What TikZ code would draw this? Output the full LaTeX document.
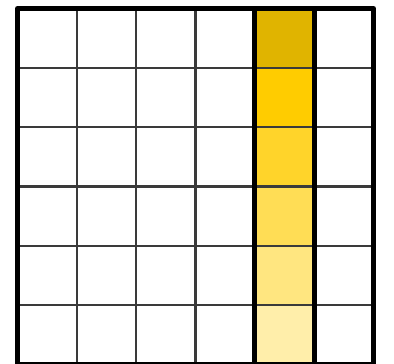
\documentclass[tikz,border=0pt]{standalone}
\definecolor{c1}{HTML}{E0B400}
\definecolor{c2}{HTML}{FFCC00}
\definecolor{c3}{HTML}{FFD42A}
\definecolor{c4}{HTML}{FFDD55}
\definecolor{c5}{HTML}{FFE680}
\definecolor{c6}{HTML}{FFEEAA}
\definecolor{gridgrey}{HTML}{3A3A3A}
\tikzset{
  innerline/.style={draw=gridgrey, line width=2.6pt},
  outerline/.style={draw=black, line width=5pt, line join=round},
}
\begin{document}
\begin{tikzpicture}[x=1pt,y=-1pt]
\useasboundingbox (0,0) rectangle (394,364);
\begin{scope}
\clip (0,0) rectangle (394,364);
\pgfmathsetmacro{\cs}{356/6}
% highlighted column fills
\foreach \i/\c in {0/c1,1/c2,2/c3,3/c4,4/c5,5/c6}{
  \fill[\c] ({17.5+4*\cs},{8.5+\i*\cs}) rectangle ({17.5+5*\cs},{8.5+(\i+1)*\cs});
}
% inner grid lines
\foreach \k in {1,...,5}{
  \draw[innerline] ({17.5+\k*\cs},8.5) -- ({17.5+\k*\cs},364.5);
  \draw[innerline] (17.5,{8.5+\k*\cs}) -- (373.5,{8.5+\k*\cs});
}
% highlighted column border
\draw[outerline] ({17.5+4*\cs},8.5) rectangle ({17.5+5*\cs},364.5);
% outer border
\draw[outerline] (17.5,8.5) rectangle (373.5,364.5);
\end{scope}
\end{tikzpicture}
\end{document}
